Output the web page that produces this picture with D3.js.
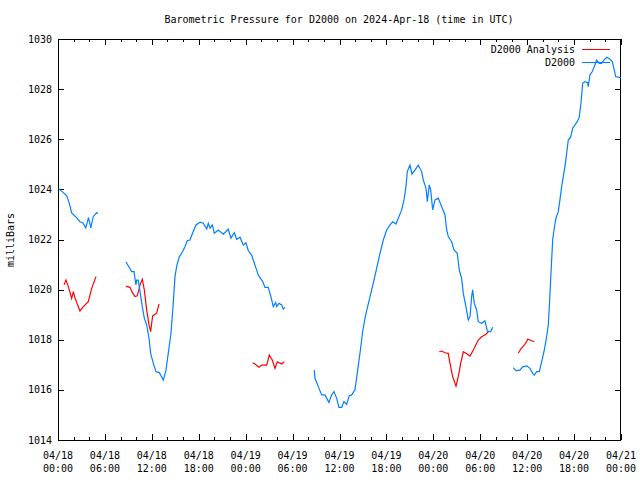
<!DOCTYPE html>
<html>
<head>
<meta charset="utf-8">
<script src="https://cdn.jsdelivr.net/npm/d3@7"></script>
<style>
  body { margin: 0; background: #fff; }
  svg { display: block; }
  text { font-family: "DejaVu Sans Mono", "Liberation Mono", monospace; font-size: 10px; fill: #000; }
</style>
</head>
<body>
<svg id="chart" width="640" height="480"></svg>
<script>
// ---------------- DATA (hours since 2024-04-18 00:00 UTC, pressure in mb) ----------------
const titleText = "Barometric Pressure for D2000 on 2024-Apr-18 (time in UTC)";
const yLabelText = "milliBars";
const seriesNames = ["D2000 Analysis", "D2000"];
const yTickValues = [1014, 1016, 1018, 1020, 1022, 1024, 1026, 1028, 1030];

// D2000 (observed) segments
const obs1Hours = [0.1, 0.68, 1.11, 1.3, 1.5, 1.75, 2.4, 2.8, 3.2, 3.55, 3.9, 4.2, 4.5, 4.95, 5.1];
const obs1Values = [1024.02, 1023.87, 1023.74, 1023.58, 1023.38, 1023.06, 1022.86, 1022.71, 1022.66, 1022.46, 1022.87, 1022.46, 1022.91, 1023.07, 1023.02];

const obs2Hours = [8.70, 9.42, 9.72, 9.97, 10.06, 10.27, 10.49, 10.78, 11.04, 11.34, 11.64, 11.85, 12.19, 12.53, 12.95, 13.47, 13.81, 14.10, 14.45, 14.74, 14.96, 15.18, 15.51, 15.82, 16.24, 16.53, 16.88, 17.23, 17.65, 18.16, 18.58, 19.02, 19.22, 19.44, 19.73, 19.99, 20.50, 21.14, 21.78, 22.12, 22.54, 22.85, 23.27, 23.70, 24.04, 24.34, 24.77, 24.97, 25.41, 25.61, 26.18, 26.47, 26.89, 27.11, 27.33, 27.53, 27.84, 27.97, 28.26, 28.61, 28.81, 29.03];
const obs2Values = [1021.10, 1020.72, 1020.72, 1020.19, 1020.38, 1020.38, 1019.92, 1019.32, 1018.86, 1018.59, 1018.06, 1017.46, 1017.06, 1016.73, 1016.69, 1016.39, 1016.79, 1017.46, 1018.26, 1019.45, 1020.52, 1020.94, 1021.31, 1021.45, 1021.71, 1021.95, 1021.98, 1022.27, 1022.58, 1022.69, 1022.65, 1022.42, 1022.65, 1022.45, 1022.58, 1022.25, 1022.38, 1022.21, 1022.41, 1022.05, 1022.27, 1022.01, 1022.09, 1021.78, 1021.87, 1021.55, 1021.38, 1021.18, 1020.78, 1020.58, 1020.32, 1020.09, 1020.09, 1019.85, 1019.59, 1019.32, 1019.48, 1019.32, 1019.45, 1019.39, 1019.22, 1019.30];

const obs3Hours = [32.77, 32.86, 33.29, 33.72, 34.14, 34.65, 35.00, 35.29, 35.64, 35.93, 36.28, 36.57, 36.92, 37.25, 37.56, 37.98, 38.27, 38.62, 38.96, 39.26, 39.55, 39.81, 40.41, 41.18, 41.60, 42.03, 42.46, 42.80, 43.22, 43.52, 43.95, 44.25, 44.50, 44.67, 45.01, 45.27, 45.65, 46.07, 46.51, 46.71, 47.06, 47.23, 47.48, 47.66, 47.92, 48.21, 48.63, 49.07, 49.49, 49.71, 49.92, 50.35, 50.64, 51.06, 51.32, 51.62, 51.83, 52.17, 52.47, 52.69, 52.90, 53.03, 53.24, 53.54, 53.75, 54.18, 54.60, 54.90, 55.33, 55.59];
const obs3Values = [1016.79, 1016.46, 1016.13, 1015.80, 1015.80, 1015.50, 1015.80, 1015.93, 1015.66, 1015.30, 1015.30, 1015.53, 1015.42, 1015.77, 1015.80, 1016.00, 1016.66, 1017.46, 1018.32, 1018.86, 1019.26, 1019.59, 1020.38, 1021.45, 1021.98, 1022.38, 1022.58, 1022.71, 1022.62, 1022.85, 1023.18, 1023.58, 1024.11, 1024.71, 1024.97, 1024.61, 1024.77, 1024.97, 1024.71, 1024.38, 1024.04, 1023.51, 1024.18, 1023.98, 1023.18, 1023.58, 1023.65, 1023.31, 1022.98, 1022.38, 1022.11, 1021.91, 1021.58, 1021.45, 1020.78, 1020.45, 1019.85, 1019.32, 1018.79, 1018.92, 1019.72, 1019.99, 1019.45, 1019.19, 1018.72, 1018.66, 1018.76, 1018.35, 1018.32, 1018.50];

const obs4Hours = [58.22, 58.57, 59.08, 59.42, 59.94, 60.36, 60.70, 60.91, 61.22, 61.55, 61.85, 62.19, 62.49, 62.70, 62.83, 63.00, 63.13, 63.26, 63.43, 63.68, 63.98, 64.19, 64.41, 64.62, 64.83, 65.05, 65.26, 65.56, 65.82, 66.11, 66.41, 66.66, 66.88, 67.10, 67.39, 67.74, 67.81, 68.03, 68.33, 68.59, 68.89, 69.22, 69.53, 69.82, 70.17, 70.59, 70.88, 71.14, 71.32, 71.78, 72.0];
const obs4Values = [1016.89, 1016.77, 1016.79, 1016.92, 1016.96, 1016.86, 1016.66, 1016.59, 1016.73, 1016.73, 1017.12, 1017.59, 1018.12, 1018.59, 1019.32, 1020.38, 1021.18, 1021.98, 1022.38, 1022.85, 1023.11, 1023.58, 1024.11, 1024.51, 1024.91, 1025.44, 1025.97, 1026.08, 1026.44, 1026.57, 1026.70, 1026.88, 1027.44, 1028.23, 1028.30, 1028.26, 1028.10, 1028.57, 1028.70, 1028.90, 1029.16, 1029.03, 1029.03, 1029.16, 1029.27, 1029.19, 1029.10, 1028.76, 1028.50, 1028.47, 1028.45];

// D2000 Analysis segments
const ana1Hours = [0.77, 1.02, 1.32, 1.75, 1.96, 2.17, 2.81, 3.24, 3.87, 4.31, 4.86];
const ana1Values = [1020.19, 1020.38, 1020.12, 1019.65, 1019.92, 1019.67, 1019.15, 1019.32, 1019.52, 1020.05, 1020.52];

const ana2Hours = [8.70, 9.21, 9.46, 9.85, 10.14, 10.49, 10.78, 11.04, 11.34, 11.64, 11.85, 11.98, 12.11, 12.62, 12.92];
const ana2Values = [1020.13, 1020.09, 1019.91, 1019.72, 1019.75, 1020.19, 1020.41, 1019.99, 1019.19, 1018.59, 1018.32, 1018.66, 1018.95, 1019.06, 1019.43];

const ana3Hours = [24.90, 25.19, 25.70, 26.05, 26.69, 27.02, 27.40, 27.75, 28.04, 28.61, 28.94];
const ana3Values = [1017.08, 1017.03, 1016.90, 1016.99, 1016.99, 1017.39, 1017.19, 1016.86, 1017.12, 1017.03, 1017.12];

const ana4Hours = [48.76, 49.07, 49.49, 49.91, 50.13, 50.47, 50.90, 51.19, 51.50, 51.83, 52.17, 52.69, 53.11, 53.75, 54.18, 54.73, 55.03];
const ana4Values = [1017.52, 1017.55, 1017.48, 1017.46, 1017.06, 1016.53, 1016.15, 1016.53, 1017.06, 1017.52, 1017.46, 1017.35, 1017.59, 1017.99, 1018.12, 1018.22, 1018.32];

const ana5Hours = [58.86, 59.16, 59.50, 59.81, 60.06, 60.36, 60.91];
const ana5Values = [1017.46, 1017.62, 1017.75, 1017.86, 1018.02, 1017.99, 1017.92];

// ---------------- DRAWING ----------------
const t0 = Date.UTC(2024, 3, 18, 0, 0);
const toDate = h => new Date(t0 + h * 3600 * 1000);
const zip = (hs, vs) => hs.map((h, i) => ({ t: toDate(h), v: vs[i] }));

const observed = [zip(obs1Hours, obs1Values), zip(obs2Hours, obs2Values), zip(obs3Hours, obs3Values), zip(obs4Hours, obs4Values)];
const analysis = [zip(ana1Hours, ana1Values), zip(ana2Hours, ana2Values), zip(ana3Hours, ana3Values), zip(ana4Hours, ana4Values), zip(ana5Hours, ana5Values)];

const margin = { left: 58, right: 19, top: 39, bottom: 40 };
const W = 640, H = 480;
const svg = d3.select("#chart");

const x = d3.scaleUtc()
  .domain([new Date(t0), toDate(72)])
  .range([margin.left, W - margin.right]);
const y = d3.scaleLinear()
  .domain([1014, 1030])
  .range([H - margin.bottom, margin.top]);

const fmtDate = d3.utcFormat("%m/%d");
const fmtTime = d3.utcFormat("%H:%M");
const majorTicks = d3.utcHour.every(6).range(x.domain()[0], new Date(+x.domain()[1] + 1));
const minorTicks = d3.utcHour.every(2).range(x.domain()[0], new Date(+x.domain()[1] + 1))
  .filter(d => d.getUTCHours() % 6 !== 0);

const x0 = x.range()[0], x1 = x.range()[1];
const yb = y.range()[0], yt = y.range()[1];

const ticksG = svg.append("g").attr("shape-rendering", "crispEdges").attr("stroke", "#000").attr("stroke-width", 1);
// x ticks bottom & top (inward)
majorTicks.forEach(d => {
  const px = Math.round(x(d)) + 0.5;
  ticksG.append("line").attr("x1", px).attr("x2", px).attr("y1", yb).attr("y2", yb - 6);
  ticksG.append("line").attr("x1", px).attr("x2", px).attr("y1", yt).attr("y2", yt + 6);
});
minorTicks.forEach(d => {
  const px = Math.round(x(d)) + 0.5;
  ticksG.append("line").attr("x1", px).attr("x2", px).attr("y1", yb).attr("y2", yb - 3);
  ticksG.append("line").attr("x1", px).attr("x2", px).attr("y1", yt).attr("y2", yt + 3);
});
// y ticks left & right (inward)
yTickValues.forEach(v => {
  const py = Math.round(y(v)) + 0.5;
  ticksG.append("line").attr("x1", x0).attr("x2", x0 + 6).attr("y1", py).attr("y2", py);
  ticksG.append("line").attr("x1", x1).attr("x2", x1 - 6).attr("y1", py).attr("y2", py);
});

// frame
svg.append("rect")
  .attr("x", x0 + 0.5).attr("y", yt + 0.5)
  .attr("width", x1 - x0 - 1).attr("height", yb - yt)
  .attr("fill", "none").attr("stroke", "#000").attr("shape-rendering", "crispEdges");

// y tick labels
svg.append("g").selectAll("text").data(yTickValues).join("text")
  .attr("x", x0 - 6).attr("y", d => y(d))
  .attr("dy", "0.35em").attr("text-anchor", "end")
  .text(d => d);

// x tick labels
const xl = svg.append("g").selectAll("text").data(majorTicks).join("text")
  .attr("text-anchor", "middle");
xl.append("tspan").attr("x", d => x(d)).attr("y", 459).text(d => fmtDate(d));
xl.append("tspan").attr("x", d => x(d)).attr("y", 472).text(d => fmtTime(d));

// title
svg.append("text").attr("x", 339).attr("y", 23).attr("text-anchor", "middle").text(titleText);

// y axis label
svg.append("text").attr("transform", "translate(14,240) rotate(-90)")
  .attr("text-anchor", "middle").text(yLabelText);

// lines
const line = d3.line().x(d => x(d.t)).y(d => y(d.v));
svg.append("g").selectAll("path").data(analysis).join("path")
  .attr("d", line).attr("fill", "none").attr("stroke", "#ff0000").attr("stroke-width", 1.2);
svg.append("g").selectAll("path").data(observed).join("path")
  .attr("d", line).attr("fill", "none").attr("stroke", "#0080ff").attr("stroke-width", 1.2);

// legend
const legendColors = ["#ff0000", "#0080ff"];
const lg = svg.append("g");
seriesNames.forEach((name, i) => {
  const ly = 49 + i * 13;
  lg.append("text").attr("x", 575).attr("y", ly).attr("dy", "0.35em").attr("text-anchor", "end").text(name);
  lg.append("line").attr("x1", 582).attr("x2", 610).attr("y1", ly + 0.5).attr("y2", ly + 0.5)
    .attr("stroke", legendColors[i]).attr("stroke-width", 1).attr("shape-rendering", "crispEdges");
});
</script>
</body>
</html>
